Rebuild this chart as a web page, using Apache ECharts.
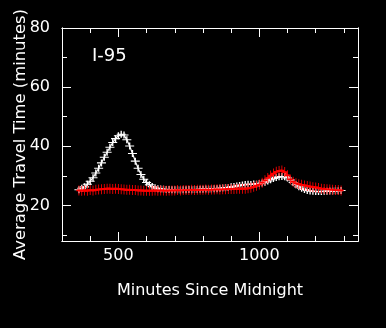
<!DOCTYPE html>
<html>
<head>
<meta charset="utf-8">
<script src="https://cdn.jsdelivr.net/npm/echarts@6/dist/echarts.min.js"></script>
<style>
  html, body { margin: 0; padding: 0; background: #000; }
  #chart { width: 386px; height: 328px; }
</style>
</head>
<body>
<div id="chart"></div>
<script>
// minutes since midnight, one sample every 10 minutes
var minutes = [360, 370, 380, 390, 400, 410, 420, 430, 440, 450,
    460, 470, 480, 490, 500, 510, 520, 530, 540, 550,
    560, 570, 580, 590, 600, 610, 620, 630, 640, 650,
    660, 670, 680, 690, 700, 710, 720, 730, 740, 750,
    760, 770, 780, 790, 800, 810, 820, 830, 840, 850,
    860, 870, 880, 890, 900, 910, 920, 930, 940, 950,
    960, 970, 980, 990, 1000, 1010, 1020, 1030, 1040, 1050,
    1060, 1070, 1080, 1090, 1100, 1110, 1120, 1130, 1140, 1150,
    1160, 1170, 1180, 1190, 1200, 1210, 1220, 1230, 1240, 1250,
    1260, 1270, 1280, 1290];

// white series
var whiteTimes = [25.3, 25.8, 26.3, 27.2, 28.2, 29.4, 31.0, 32.6, 34.4, 36.3,
    38.0, 39.7, 41.3, 42.6, 43.6, 44.1, 43.8, 42.2, 40.1, 37.6,
    35.0, 32.6, 30.5, 28.9, 27.8, 27.0, 26.4, 26.0, 25.7, 25.6,
    25.5, 25.4, 25.4, 25.3, 25.3, 25.3, 25.2, 25.3, 25.3, 25.4,
    25.3, 25.4, 25.4, 25.5, 25.5, 25.6, 25.5, 25.6, 25.7, 25.7,
    25.8, 25.9, 26.0, 26.1, 26.3, 26.4, 26.6, 26.8, 26.9, 27.1,
    27.2, 27.1, 27.3, 27.2, 27.4, 27.6, 27.9, 28.3, 28.7, 29.1,
    29.5, 29.7, 29.8, 29.7, 29.3, 28.6, 27.8, 27.0, 26.3, 25.8,
    25.4, 25.1, 24.9, 24.8, 24.7, 24.7, 24.7, 24.8, 24.8, 24.9,
    24.9, 25.0, 25.0, 25.1];

// red series
var redTimes = [25.1, 25.0, 25.1, 25.0, 25.2, 25.1, 25.3, 25.4, 25.5, 25.6,
    25.7, 25.7, 25.6, 25.7, 25.6, 25.5, 25.4, 25.3, 25.3, 25.2,
    25.2, 25.1, 25.1, 25.0, 25.0, 25.0, 25.0, 25.1, 25.0, 25.1,
    25.1, 25.0, 25.1, 25.1, 25.1, 25.2, 25.1, 25.2, 25.2, 25.2,
    25.3, 25.2, 25.3, 25.3, 25.3, 25.4, 25.3, 25.4, 25.4, 25.5,
    25.4, 25.5, 25.5, 25.6, 25.6, 25.6, 25.7, 25.7, 25.7, 25.7,
    25.8, 26.0, 26.3, 26.7, 27.1, 27.7, 28.5, 29.3, 30.1, 30.8,
    31.4, 31.7, 31.8, 31.3, 30.2, 28.8, 28.0, 27.5, 27.2, 27.0,
    26.8, 26.6, 26.4, 26.2, 26.1, 25.9, 25.7, 25.6, 25.5, 25.4,
    25.3, 25.2, 25.2, 25.1];

var xMajor = [500, 1000];
var xMinor = [400, 600, 700, 800, 900, 1100, 1200, 1300];
var yMajor = [20, 40, 60, 80];
var yMinor = [10, 30, 50, 70];

var labelFont = "DejaVu Sans";
var plus = 'path://M0,5L10,5M5,0L5,10';

function pairs(xs, ys) {
    var out = [];
    for (var i = 0; i < xs.length; i++) {
        out.push([xs[i], ys[i]]);
    }
    return out;
}

function plain(v) {
    return String(v);
}

function xAxisDef(pos, ticks, len, withLabels) {
    return {
        type: 'value',
        position: pos,
        min: 300,
        max: 1350,
        splitLine: { show: false },
        axisLine: { show: true, onZero: false, lineStyle: { color: '#fff', width: 1 } },
        axisTick: { show: true, inside: true, length: len, customValues: ticks, lineStyle: { color: '#fff', width: 1 } },
        axisLabel: withLabels ? {
            show: true, customValues: xMajor, formatter: plain, color: '#fff', fontFamily: labelFont,
            fontSize: 16, margin: 7
        } : { show: false },
        name: withLabels ? 'Minutes Since Midnight' : '',
        nameLocation: 'middle',
        nameGap: 42,
        nameMoveOverlap: false,
        nameTextStyle: { color: '#fff', fontFamily: labelFont, fontSize: 16 }
    };
}

function yAxisDef(pos, ticks, len, withLabels) {
    return {
        type: 'value',
        position: pos,
        min: 8,
        max: 80,
        splitLine: { show: false },
        axisLine: { show: true, onZero: false, lineStyle: { color: '#fff', width: 1 } },
        axisTick: { show: true, inside: true, length: len, customValues: ticks, lineStyle: { color: '#fff', width: 1 } },
        axisLabel: withLabels ? {
            show: true, customValues: yMajor, formatter: plain, color: '#fff', fontFamily: labelFont,
            fontSize: 16, margin: 12
        } : { show: false },
        name: withLabels ? 'Average Travel Time (minutes)' : '',
        nameLocation: 'middle',
        nameGap: 33,
        nameMoveOverlap: false,
        nameTextStyle: { color: '#fff', fontFamily: labelFont, fontSize: 16.4 }
    };
}

var myChart = echarts.init(document.getElementById('chart'));
var option = {
    backgroundColor: '#000',
    animation: false,
    title: {
        text: 'I-95',
        left: 87,
        top: 42,
        textStyle: { color: '#fff', fontFamily: labelFont, fontSize: 18, fontWeight: 'normal' }
    },
    grid: { left: 62, right: 28, top: 28, bottom: 87, containLabel: false, outerBoundsMode: 'none' },
    xAxis: [
        xAxisDef('bottom', xMajor, 9, true),
        xAxisDef('bottom', xMinor, 5, false),
        xAxisDef('top', xMajor, 9, false),
        xAxisDef('top', xMinor, 5, false)
    ],
    yAxis: [
        yAxisDef('left', yMajor, 9, true),
        yAxisDef('left', yMinor, 5, false),
        yAxisDef('right', yMajor, 9, false),
        yAxisDef('right', yMinor, 5, false)
    ],
    series: [{
        name: 'white',
        type: 'line',
        xAxisIndex: 0,
        yAxisIndex: 0,
        data: pairs(minutes, whiteTimes),
        showAllSymbol: true,
        symbol: plus,
        symbolSize: [9, 7],
        lineStyle: { color: '#fff', width: 1.2 },
        itemStyle: { color: '#fff', borderColor: '#fff', borderWidth: 1.2 }
    }, {
        name: 'red',
        type: 'line',
        xAxisIndex: 0,
        yAxisIndex: 0,
        data: pairs(minutes, redTimes),
        showAllSymbol: true,
        symbol: plus,
        symbolSize: [5, 10],
        lineStyle: { color: '#ff0000', width: 2 },
        itemStyle: { color: '#ff0000', borderColor: '#ff0000', borderWidth: 1.2 }
    }]
};
myChart.setOption(option);
</script>
</body>
</html>
